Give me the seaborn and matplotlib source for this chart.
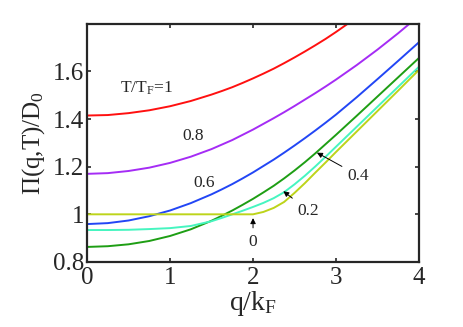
import numpy as np
import pandas as pd
import seaborn as sns
import matplotlib
matplotlib.use("Agg")
import matplotlib.pyplot as plt

# q/kF grid (finer where the curves bend) and curves
q = [0, 0.25, 0.5, 0.75, 1, 1.25, 1.5, 1.625, 1.75, 1.875, 2, 2.125, 2.25,
     2.375, 2.5, 2.625, 2.75, 2.875, 3, 3.25, 3.5, 3.75, 4]

pi_T10 = [1.415, 1.417, 1.425, 1.437, 1.454, 1.476, 1.503, 1.518, 1.534, 1.552,
          1.571, 1.591, 1.612, 1.635, 1.659, 1.684, 1.710, 1.737, 1.766,
          1.827, 1.893, 1.963, 2.039]
pi_T08 = [1.170, 1.173, 1.182, 1.196, 1.216, 1.242, 1.274, 1.293, 1.312, 1.334,
          1.356, 1.380, 1.404, 1.429, 1.455, 1.482, 1.509, 1.537, 1.566,
          1.627, 1.692, 1.761, 1.834]
pi_T06 = [0.959, 0.963, 0.974, 0.992, 1.016, 1.047, 1.084, 1.105, 1.127, 1.151,
          1.176, 1.203, 1.230, 1.259, 1.289, 1.320, 1.352, 1.385, 1.419,
          1.492, 1.568, 1.645, 1.723]
pi_T04 = [0.863, 0.866, 0.874, 0.888, 0.909, 0.937, 0.973, 0.994, 1.016, 1.040,
          1.065, 1.092, 1.120, 1.151, 1.184, 1.219, 1.256, 1.295, 1.334,
          1.414, 1.495, 1.576, 1.657]
pi_T02 = [0.934, 0.934, 0.935, 0.938, 0.942, 0.951, 0.971, 0.985, 1.000, 1.015,
          1.031, 1.048, 1.068, 1.093, 1.126, 1.162, 1.201, 1.242, 1.284,
          1.368, 1.452, 1.536, 1.620]
pi_T00 = [1.0, 1.0, 1.0, 1.0, 1.0, 1.0, 1.0, 1.0, 1.0, 1.0,
          1.0, 1.010, 1.027, 1.052, 1.090, 1.131, 1.175, 1.218, 1.262,
          1.348, 1.434, 1.520, 1.607]

temps = ["1", "0.8", "0.6", "0.4", "0.2", "0"]
colors = ["#ff1010", "#a52cf5", "#2246f5", "#1e9e14", "#46f5c0", "#bdd41a"]

df = pd.concat([
    pd.DataFrame({"q": q, "Pi": v, "T": t})
    for t, v in zip(temps, [pi_T10, pi_T08, pi_T06, pi_T04, pi_T02, pi_T00])
])

sns.set_style("ticks")
plt.rcParams["font.family"] = ["Liberation Serif", "DejaVu Serif"]
plt.rcParams["mathtext.fontset"] = "custom"
plt.rcParams["mathtext.rm"] = "Liberation Serif"
plt.rcParams["mathtext.it"] = "Liberation Serif:italic"

fig = plt.figure(figsize=(4.63, 3.27), dpi=100)
ax = fig.add_axes([0.188, 0.199, 0.717, 0.728])

sns.lineplot(data=df, x="q", y="Pi", hue="T", hue_order=temps,
             palette=colors, linewidth=1.4, legend=False, ax=ax)

ax.set_xlim(0, 4)
ax.set_ylim(0.8, 1.8)
ax.set_xticks([0, 1, 2, 3, 4])
ax.set_yticks([0.8, 1.0, 1.2, 1.4, 1.6])
ax.set_yticklabels(["0.8", "1", "1.2", "1.4", "1.6"])
ax.tick_params(direction="in", length=3, width=1.2, top=True, right=True,
               labelsize=18)
ax.tick_params(axis="x", pad=4)
ax.tick_params(axis="y", pad=2)
for s in ax.spines.values():
    s.set_linewidth(1.6)

ax.set_xlabel(r"q/k$_{\rm F}$", fontsize=20, labelpad=0)
ax.set_ylabel(r"Π(q,T)/D$_{\rm 0}$", fontsize=18, labelpad=4)

ax.text(0.72, 1.51, r"T/T$_{\rm F}$=1", fontsize=12.5, ha="center", va="baseline")
ax.text(1.28, 1.33, "0.8", fontsize=12.5, ha="center", va="center")
ax.text(1.41, 1.13, "0.6", fontsize=12.5, ha="center", va="center")

arrow = dict(arrowstyle="-|>", color="black", lw=0.7, mutation_scale=8,
             shrinkA=2, shrinkB=0)
ax.annotate("0.4", xy=(2.77, 1.259), xytext=(3.27, 1.163), fontsize=12.5,
            ha="center", va="center", arrowprops=arrow)
ax.annotate("0.2", xy=(2.365, 1.097), xytext=(2.67, 1.015), fontsize=12.5,
            ha="center", va="center", arrowprops=arrow)
ax.annotate("0", xy=(2.0, 0.984), xytext=(2.0, 0.884), fontsize=12.5,
            ha="center", va="center", arrowprops=arrow)

fig.savefig("out.png", dpi=100)
